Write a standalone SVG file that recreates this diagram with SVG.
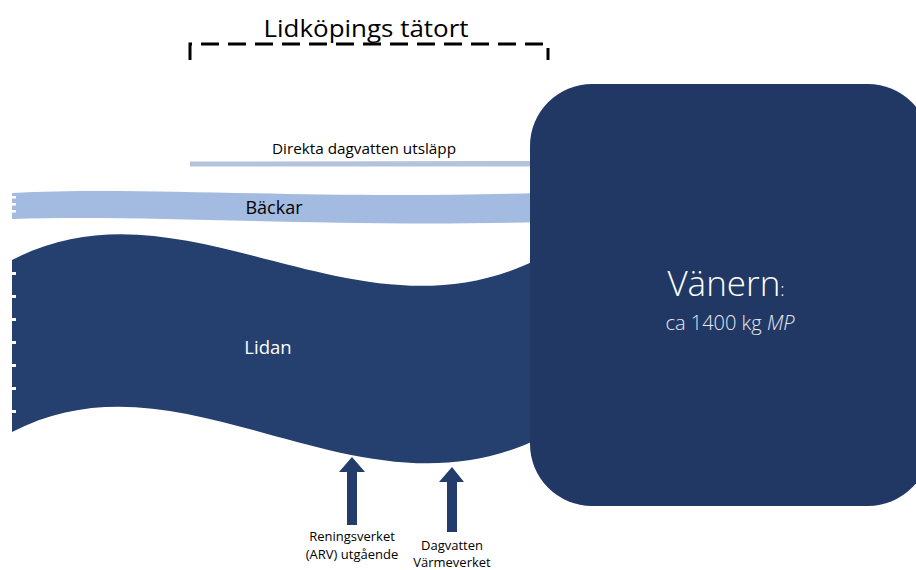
<svg xmlns="http://www.w3.org/2000/svg" width="916" height="570" viewBox="0 0 916 570">
<style>
.t{font-family:"Open Sans","Liberation Sans",sans-serif;}
.dark{fill:#233c6b;}
.tick{fill:#ffffff;}
</style>
<rect width="916" height="570" fill="#ffffff"/>
<g id="tatort">
<path d="M190,60 V44 H548 V60" fill="none" stroke="#000" stroke-width="3" stroke-dasharray="18,9"/>
<text class="t" x="366" y="37" font-size="24" text-anchor="middle" textLength="205" lengthAdjust="spacingAndGlyphs" fill="#000">Lidköpings tätort</text>
</g>
<g id="direkta">
<path d="M190,161.5 L530,161 L530,166.5 L190,166.5 Z" fill="#b4c3dc"/>
<text class="t" x="364" y="154" font-size="14" text-anchor="middle" textLength="184" lengthAdjust="spacingAndGlyphs" fill="#000">Direkta dagvatten utsläpp</text>
</g>
<g id="backar">
<path d="M12,193 C150,186 300,200 540,193 L540,222 C330,228 150,214 12,219 Z" fill="#a3bbe0"/>
<rect class="tick" x="12" y="196" width="4" height="2.5"/>
<rect class="tick" x="12" y="203" width="4" height="2.5"/>
<rect class="tick" x="12" y="210" width="4" height="2.5"/>
<text class="t" x="274" y="214" font-size="18" text-anchor="middle" fill="#000">Bäckar</text>
</g>
<g id="lidan">
<path d="M12,260 C185,170 355,352 540,258 L540,438 C355,528 185,342 12,432 Z" fill="#25406f"/>
<rect class="tick" x="12" y="272" width="4" height="3"/>
<rect class="tick" x="12" y="295" width="4" height="3"/>
<rect class="tick" x="12" y="318" width="4" height="3"/>
<rect class="tick" x="12" y="341" width="4" height="3"/>
<rect class="tick" x="12" y="364" width="4" height="3"/>
<rect class="tick" x="12" y="387" width="4" height="3"/>
<rect class="tick" x="12" y="410" width="4" height="3"/>
<text class="t" x="268" y="354" font-size="18.5" text-anchor="middle" fill="#ffffff">Lidan</text>
</g>
<g id="vanern">
<rect x="530" y="84" width="400" height="422" rx="62" ry="62" fill="#213865"/>
<text class="t" x="726" y="296" text-anchor="middle" fill="#ffffff" font-weight="300"><tspan font-size="35">Vänern</tspan><tspan font-size="18">:</tspan></text>
<text class="t" x="730" y="330" font-size="20" text-anchor="middle" fill="#e6e9ef" font-weight="300">ca 1400 kg <tspan font-style="italic">MP</tspan></text>
</g>
<g id="connectors">
<path id="arrow-arv" class="dark" d="M352,457 L365,472 L357,472 L357,525 L347,525 L347,472 L339,472 Z"/>
<path id="arrow-dag" class="dark" d="M452,467 L464,482 L457,482 L457,532 L447,532 L447,482 L439,482 Z"/>
</g>
<g id="arv">
<text class="t" x="352" y="541" font-size="13" text-anchor="middle" fill="#000">Reningsverket</text>
<text class="t" x="352" y="559" font-size="13" text-anchor="middle" fill="#000">(ARV) utgående</text>
</g>
<g id="dagvatten">
<text class="t" x="452" y="550" font-size="13" text-anchor="middle" fill="#000">Dagvatten</text>
<text class="t" x="452" y="567" font-size="13" text-anchor="middle" fill="#000">Värmeverket</text>
</g>
</svg>
